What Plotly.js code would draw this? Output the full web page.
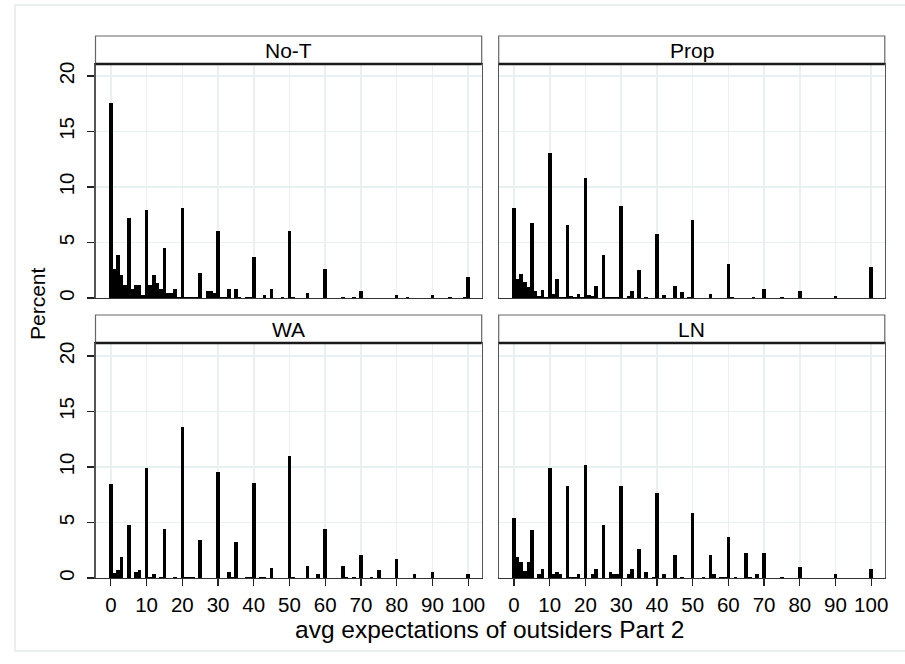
<!DOCTYPE html>
<html>
<head>
<meta charset="utf-8">
<script src="https://cdn.plot.ly/plotly-3.0.1.min.js"></script>
<style>
  html, body { margin: 0; padding: 0; background: #ffffff; }
  #chart { width: 905px; height: 664px; }
</style>
</head>
<body>
<div id="chart"></div>
<script>
// ---- Data ----
const panelNames = ["No-T", "Prop", "WA", "LN"];

const noT_x   = [0,1,2,3,4,5,6,7,8,9,10,11,12,13,14,15,16,17,18,19,20,21,22,23,24,25,27,28,29,30,31,32,33,35,36,38,39,40,43,45,48,50,51,55,60,65,68,70,80,83,90,95,99,100];
const noT_pct = [17.6,2.6,3.85,2.05,1.15,7.2,0.85,1.15,1.15,0.25,7.95,1.15,2.05,1.35,0.8,4.55,0.45,0.45,0.8,0.1,8.15,0.1,0.1,0.1,0.1,2.25,0.65,0.65,0.45,6.0,0.1,0.1,0.8,0.8,0.1,0.1,0.1,3.65,0.3,0.8,0.1,6.0,0.1,0.45,2.6,0.1,0.1,0.65,0.25,0.1,0.25,0.1,0.1,1.9];

const prop_x   = [0,1,2,3,4,5,6,7,8,9,10,11,12,13,14,15,16,17,18,19,20,21,22,23,25,26,27,28,29,30,32,33,35,37,40,42,45,47,49,50,55,60,61,67,70,75,80,90,100];
const prop_pct = [8.1,1.7,2.15,1.45,1.0,6.75,0.65,0.2,0.75,0.1,13.05,0.4,1.7,0.05,0.05,6.6,0.15,0.1,0.4,0.1,10.8,0.25,0.15,1.1,3.85,0.1,0.1,0.1,0.1,8.25,0.15,0.65,2.55,0.1,5.8,0.25,1.1,0.5,0.05,7.0,0.4,3.1,0.1,0.1,0.85,0.1,0.65,0.15,2.75];

const wa_x   = [0,1,2,3,5,7,8,10,11,12,14,15,18,20,21,22,23,25,30,33,34,35,38,39,40,42,43,45,50,51,55,58,60,65,66,68,70,73,75,80,85,90,100];
const wa_pct = [8.45,0.45,0.7,1.9,4.75,0.55,0.7,9.95,0.12,0.35,0.1,4.4,0.12,13.6,0.12,0.12,0.12,3.4,9.55,0.55,0.12,3.25,0.12,0.12,8.6,0.12,0.12,0.9,10.95,0.12,1.1,0.35,4.4,1.1,0.12,0.12,2.05,0.12,0.7,1.7,0.35,0.55,0.35];

const ln_x   = [0,1,2,3,4,5,7,8,10,11,12,13,15,16,17,18,20,22,23,25,27,28,29,30,32,33,35,37,39,40,42,45,47,50,53,55,56,58,59,60,62,65,66,68,70,75,80,90,100];
const ln_pct = [5.4,1.85,1.45,0.6,1.45,4.35,0.35,0.8,9.95,0.35,0.55,0.35,8.3,0.12,0.12,0.35,10.2,0.35,0.8,4.75,0.55,0.35,0.35,8.3,0.35,0.8,2.65,0.55,0.12,7.65,0.35,2.05,0.1,5.85,0.12,2.05,0.35,0.12,0.12,3.7,0.12,2.25,0.12,0.35,2.25,0.12,0.95,0.35,0.8];

const xTickVals = [0,10,20,30,40,50,60,70,80,90,100];
const yTickVals = [0,5,10,15,20];

// ---- Geometry (pixels) ----
const W = 905, H = 664;
const px = v => v / W;
const py = v => 1 - v / H;

const colL = [95.5, 481.7], colR = [498.7, 884.8];
const rowTop = [64, 298], rowBot = [343, 578];
const stripTop = [36, 64], stripBot = [315, 343];

const FONT = "Liberation Sans, Arial, Helvetica, sans-serif";
const GRID = "#e8f0f1";
const TICKSIZE = 20.5;

function bar(x, y, ax) {
  return {
    type: "bar", x: x, y: y, width: 1,
    xaxis: "x" + ax, yaxis: "y" + ax,
    marker: { color: "#000000", line: { width: 0 } },
    hoverinfo: "x+y", showlegend: false
  };
}

function xa(dom, bottom) {
  return {
    domain: [px(dom[0]), px(dom[1])], range: [-4.3, 103.8],
    tickmode: "array", tickvals: xTickVals,
    showticklabels: bottom, ticks: bottom ? "outside" : "", ticklen: 7, tickwidth: 1.2, tickcolor: "#222",
    ticklabelstandoff: 1,
    showgrid: true, gridcolor: GRID, gridwidth: 1.5, zeroline: false,
    showline: true, mirror: true, linecolor: "#333", linewidth: 1.2,
    tickfont: { family: FONT, size: TICKSIZE, color: "#000" }, fixedrange: true
  };
}
function ya(row, left, anchor) {
  const top = (row[1] - row[0]) / 11.1;
  return {
    domain: [py(row[1]), py(row[0])], range: [0, top], anchor: anchor,
    tickmode: "array", tickvals: yTickVals, tickangle: -90,
    showticklabels: left, ticks: left ? "outside" : "", ticklen: 7, tickwidth: 1.2, tickcolor: "#222",
    ticklabelstandoff: 5,
    showgrid: true, gridcolor: GRID, gridwidth: 1.5, zeroline: false,
    showline: true, mirror: true, linecolor: "#555", linewidth: 1.2,
    tickfont: { family: FONT, size: TICKSIZE, color: "#000" }, fixedrange: true
  };
}

const data = [
  bar(noT_x, noT_pct, 1),
  bar(prop_x, prop_pct, 2),
  bar(wa_x, wa_pct, 3),
  bar(ln_x, ln_pct, 4)
];

const shapes = [];
const annotations = [];
function strip(col, s, name) {
  shapes.push({ type: "rect", xref: "paper", yref: "paper",
    x0: px(col[0]), x1: px(col[1]), y0: py(s[1]), y1: py(s[0]),
    line: { color: "#666", width: 1.2 }, fillcolor: "#ffffff", layer: "above" });
  shapes.push({ type: "line", xref: "paper", yref: "paper",
    x0: px(col[0]), x1: px(col[1]), y0: py(s[1]), y1: py(s[1]),
    line: { color: "#1a1a1a", width: 2.5 }, layer: "above" });
  annotations.push({ xref: "paper", yref: "paper", x: px((col[0] + col[1]) / 2), y: py((s[0] + s[1]) / 2 + 0.5),
    text: name, showarrow: false, xanchor: "center", yanchor: "middle",
    font: { family: FONT, size: 21, color: "#000" } });
}
strip(colL, stripTop, panelNames[0]);
strip(colR, stripTop, panelNames[1]);
strip(colL, stripBot, panelNames[2]);
strip(colR, stripBot, panelNames[3]);

// outer graph-region outline
shapes.push({ type: "rect", xref: "paper", yref: "paper",
  x0: px(15), x1: px(910), y0: py(651), y1: py(5),
  line: { color: "#e3eaeb", width: 1.5 }, fillcolor: "rgba(0,0,0,0)", layer: "below" });

annotations.push({ xref: "paper", yref: "paper", x: px(38), y: py(304),
  text: "Percent", textangle: -90, showarrow: false, xanchor: "center", yanchor: "middle",
  font: { family: FONT, size: 21, color: "#000" } });
annotations.push({ xref: "paper", yref: "paper", x: px(490), y: py(629),
  text: "avg expectations of outsiders Part 2", showarrow: false, xanchor: "center", yanchor: "middle",
  font: { family: FONT, size: 24.5, color: "#000" } });

const layout = {
  width: W, height: H,
  margin: { l: 0, r: 0, t: 0, b: 0 },
  paper_bgcolor: "#ffffff", plot_bgcolor: "#ffffff",
  bargap: 0, showlegend: false,
  xaxis:  xa(colL, false), yaxis:  ya(rowTop, true, "x"),
  xaxis2: xa(colR, false), yaxis2: ya(rowTop, false, "x2"),
  xaxis3: xa(colL, true),  yaxis3: ya(rowBot, true, "x3"),
  xaxis4: xa(colR, true),  yaxis4: ya(rowBot, false, "x4"),
  shapes: shapes, annotations: annotations,
  font: { family: FONT, color: "#000" }
};
layout.xaxis.anchor = "y"; layout.xaxis2.anchor = "y2";
layout.xaxis3.anchor = "y3"; layout.xaxis4.anchor = "y4";

Plotly.newPlot("chart", data, layout, { displayModeBar: false, staticPlot: true });
</script>
</body>
</html>
